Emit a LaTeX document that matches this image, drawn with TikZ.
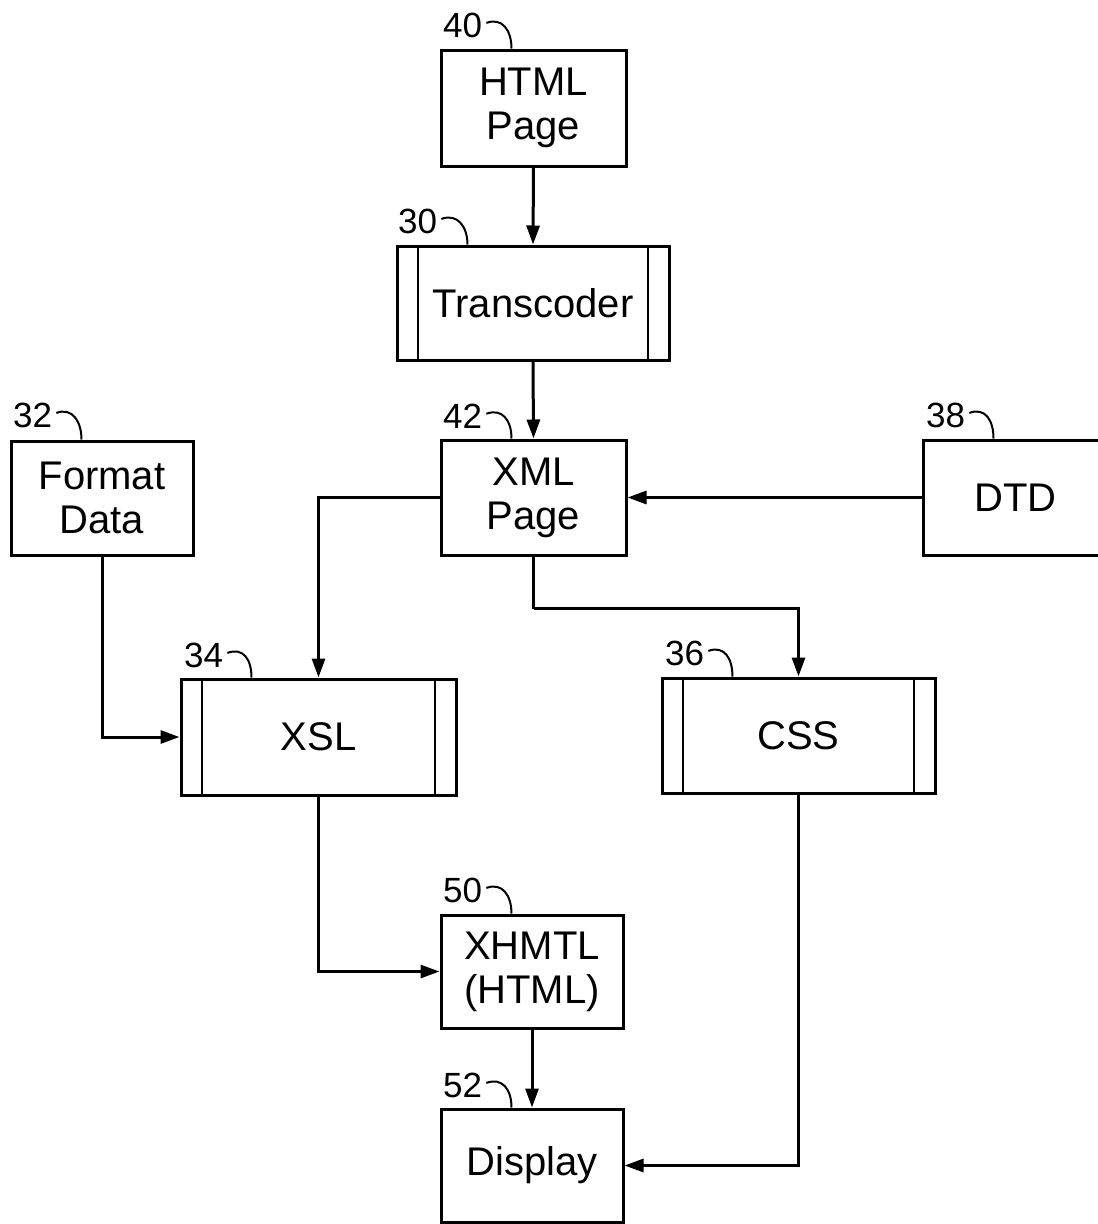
\documentclass[tikz,border=0pt]{standalone}
\usepackage{fontspec}
\setmainfont{Liberation Sans}
\usetikzlibrary{arrows.meta}
\begin{document}
\begin{tikzpicture}[x=1pt,y=-1pt,
  box/.style={draw, line width=3pt, inner sep=0pt, align=center,
    font=\fontsize{40}{44}\selectfont},
  procbox/.style={box, path picture={
    \draw[line width=2.8pt] ([xshift=21pt]path picture bounding box.north west) -- ([xshift=21pt]path picture bounding box.south west);
    \draw[line width=2.8pt] ([xshift=-21pt]path picture bounding box.north east) -- ([xshift=-21pt]path picture bounding box.south east);}},
  lab/.style={inner sep=0pt, anchor=base west, font=\fontsize{35}{36}\selectfont},
  lead/.style={line width=2pt},
  arr/.style={line width=3pt, -{Triangle[length=19pt,width=13pt]}},
  conn/.style={line width=3pt}
]
\useasboundingbox (0,0) rectangle (1098,1224);
\clip (0,0) rectangle (1098,1224);

% boxes
\node[box, minimum width=185pt, minimum height=116pt] (html) at (533.5,108) {HTML\\Page};
\node[procbox, minimum width=272pt, minimum height=114pt] (trans) at (533,303) {Transcoder};
\node[box, minimum width=182pt, minimum height=114pt] (fmt) at (102,498) {Format\\Data};
\node[box, minimum width=185pt, minimum height=115pt] (xml) at (533.5,497.5) {XML\\Page};
\node[box, minimum width=185pt, minimum height=115pt] (dtd) at (1015.5,497.5) {DTD};
\node[procbox, minimum width=275pt, minimum height=116pt] (xsl) at (318.5,737) {XSL};
\node[procbox, minimum width=273pt, minimum height=115pt] (css) at (798.5,735.5) {CSS};
\node[box, minimum width=182pt, minimum height=113pt] (xh) at (532,971.5) {XHMTL\\(HTML)};
\node[box, minimum width=182pt, minimum height=113pt] (disp) at (532,1165.5) {Display};

% connectors
\draw[arr] (html.south) -- (trans.north);
\draw[arr] (trans.south) -- (xml.north);
\draw[arr] (dtd.west) -- (xml.east);
\draw[arr] (xml.west) -| (xsl.north);
\coordinate (bend) at ([yshift=-52pt]xml.south);
\draw[conn] (xml.south) -- (bend);
\draw[arr] (bend) -| (css.north);
\draw[arr] (fmt.south) |- (xsl.west);
\draw[arr] (xsl.south) |- (xh.west);
\draw[arr] (xh.south) -- (disp.north);
\draw[arr] (css.south) |- (disp.east);

% reference labels
\node[lab] (l40) at (443,37) {40};
\node[lab] (l30) at (398,233) {30};
\node[lab] (l32) at (13,427) {32};
\node[lab] (l42) at (443,428) {42};
\node[lab] (l38) at (926,427) {38};
\node[lab] (l34) at (184,667) {34};
\node[lab] (l36) at (665,665) {36};
\node[lab] (l50) at (443,902) {50};
\node[lab] (l52) at (443,1097) {52};

\foreach \l/\b in {l40/html, l30/trans, l32/fmt, l42/xml, l38/dtd, l34/xsl, l36/css, l50/xh, l52/disp}{
  \draw[lead] ([xshift=4pt,yshift=2pt]\l.east) .. controls +(16,-6) and +(0,-18) .. ([xshift=72pt]\b.north west);
}
\end{tikzpicture}
\end{document}
